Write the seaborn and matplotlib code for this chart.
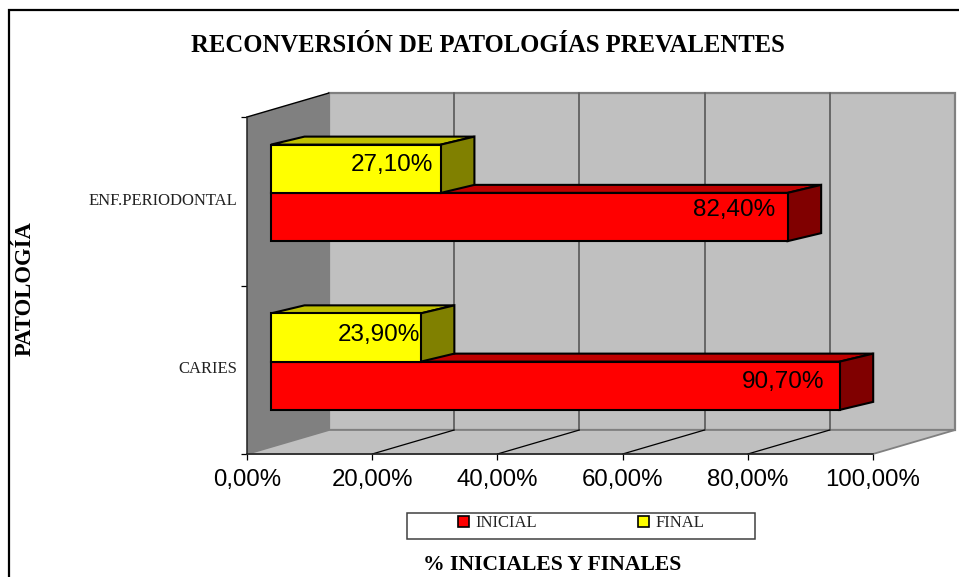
"""Reconversión de patologías prevalentes: barras horizontales con aspecto 3D."""

import matplotlib
matplotlib.use('Agg')
import matplotlib.pyplot as plt
from matplotlib.patches import Patch, Polygon, Rectangle
import pandas as pd
import seaborn as sns

# -- datos --
patologias = ['ENF.PERIODONTAL', 'CARIES']
inicial = [82.4, 90.7]
final = [27.1, 23.9]
ticks_x = [0, 20, 40, 60, 80, 100]

df = pd.DataFrame({
    'Patologia': patologias * 2,
    'Serie': ['INICIAL'] * 2 + ['FINAL'] * 2,
    'Valor': inicial + final,
})

# -- estilo --
sns.set_theme(style='white')
SERIF = 'Liberation Serif'
SANS = 'Liberation Sans'
W, H = 959, 577
DPI = 100

colores = {'INICIAL': '#FF0000', 'FINAL': '#FFFF00'}
techo = {'INICIAL': '#C00000', 'FINAL': '#C0C000'}
lateral = {'INICIAL': '#800000', 'FINAL': '#808000'}


def caja(izq, arriba, der, abajo):
    # pixeles de la imagen -> fraccion de figura
    return [izq / W, 1 - abajo / H, (der - izq) / W, (abajo - arriba) / H]


fig = plt.figure(figsize=(W / DPI, H / DPI), dpi=DPI, facecolor='white')

# marco del grafico, cortado por la derecha y por abajo
fig.add_artist(Rectangle((9 / W, -0.1), 1.1, 1.1 - 10 / H, transform=fig.transFigure,
                         fill=False, edgecolor='black', linewidth=1.6))

# -- fondo: paredes y suelo --
ax_bg = fig.add_axes(caja(247, 117, 873, 454))
ax_bg.set_xlim(0, 100)
ax_bg.set_ylim(0, 2)
ax_bg.patch.set_alpha(0)
fx = 82 / 6.26   # desplazamiento de la pared del fondo, en unidades de datos
fy = 24 / 168.5

ax_bg.add_patch(Polygon([(fx, fy), (100 + fx, fy), (100 + fx, 2 + fy), (fx, 2 + fy)],
                        closed=True, facecolor='#C0C0C0', edgecolor='#808080',
                        linewidth=1.6, clip_on=False, zorder=1))
ax_bg.add_patch(Polygon([(0, 0), (fx, fy), (fx, 2 + fy), (0, 2)],
                        closed=True, facecolor='#808080', edgecolor='none',
                        clip_on=False, zorder=1.1))
ax_bg.add_patch(Polygon([(0, 0), (100, 0), (100 + fx, fy), (fx, fy)],
                        closed=True, facecolor='#C0C0C0', edgecolor='#808080',
                        linewidth=1.3, clip_on=False, zorder=1.2))
ax_bg.plot([0, fx], [2, 2 + fy], color='black', lw=1, clip_on=False, zorder=1.3)
for t in ticks_x[1:-1]:
    ax_bg.plot([t + fx, t + fx], [fy, 2 + fy], color='#606060', lw=1.3, clip_on=False, zorder=1.3)
    ax_bg.plot([t, t + fx], [0, fy], color='black', lw=0.9, clip_on=False, zorder=1.3)

ax_bg.set_xticks(ticks_x)
ax_bg.set_xticklabels([f'{t:.2f}'.replace('.', ',') + '%' for t in ticks_x],
                      fontsize=17.3, family=SANS, color='black')
ax_bg.set_yticks([0, 1, 2])
ax_bg.set_yticklabels([])
ax_bg.set_yticks([0.515, 1.515], labels=patologias[::-1], minor=True,
                 fontsize=12, family=SERIF, color='#222222')
ax_bg.tick_params(axis='x', length=4.5, width=0.9, color='black', pad=6, bottom=True)
ax_bg.tick_params(axis='y', which='major', length=4.5, width=0.9, color='black', left=True)
ax_bg.tick_params(axis='y', which='minor', length=0, pad=7, left=False)
sns.despine(ax=ax_bg, top=True, right=True)
for lado in ('left', 'bottom'):
    ax_bg.spines[lado].set_color('#202020')
    ax_bg.spines[lado].set_linewidth(1.1)
    ax_bg.spines[lado].set_zorder(1.4)

# -- barras --
ax = fig.add_axes(caja(271, 108.5, 898, 446), zorder=2)
sns.barplot(data=df, y='Patologia', x='Valor', hue='Serie', order=patologias,
            hue_order=['FINAL', 'INICIAL'], palette=colores, saturation=1,
            width=0.572, gap=0, edgecolor='black', linewidth=1.5,
            legend=False, ax=ax)
ax.set_xlim(0, 100)
ax.set_ylim(1.5, -0.5)
ax.axis('off')

# profundidad de las barras, en unidades de datos
px = 33.5 / 6.27
py = 8 / 168.75

# desplazamiento de cada etiqueta respecto al extremo de su barra, en pixeles
margen_x = {'FINAL': [8, 1], 'INICIAL': [12, 15]}
margen_y = {'FINAL': [4, 2], 'INICIAL': [7, 4]}

for contenedor, serie, z in zip(ax.containers, ['FINAL', 'INICIAL'], [4, 3]):
    for i, barra in enumerate(contenedor):
        x1 = barra.get_width()
        y0, y1 = barra.get_y(), barra.get_y() + barra.get_height()
        ax.add_patch(Polygon([(0, y0), (px, y0 - py), (x1 + px, y0 - py), (x1, y0)],
                             closed=True, facecolor=techo[serie], edgecolor='black',
                             linewidth=1.5, clip_on=False, zorder=z))
        ax.add_patch(Polygon([(x1, y0), (x1 + px, y0 - py), (x1 + px, y1 - py), (x1, y1)],
                             closed=True, facecolor=lateral[serie], edgecolor='black',
                             linewidth=1.5, clip_on=False, zorder=z))
        barra.set_zorder(z + 0.1)
        barra.set_clip_on(False)
        ax.annotate(f'{x1:.2f}'.replace('.', ',') + '%', xy=(x1, (y0 + y1) / 2),
                    xytext=(-margen_x[serie][i], margen_y[serie][i]), textcoords='offset pixels',
                    ha='right', va='center', fontsize=17.5, family=SANS,
                    color='black', zorder=6, annotation_clip=False)

# -- textos --
fig.text(488 / W, 1 - 45.5 / H, 'RECONVERSIÓN DE PATOLOGÍAS PREVALENTES', ha='center', va='center',
         fontsize=17.7, fontweight='bold', family=SERIF, color='black')
fig.text(25 / W, 1 - 289 / H, 'PATOLOGÍA', rotation=90, ha='center', va='center',
         fontsize=16.3, fontweight='bold', family=SERIF, color='black')
fig.text(552.5 / W, 1 - 565 / H, '% INICIALES Y FINALES', ha='center', va='center',
         fontsize=15.6, fontweight='bold', family=SERIF, color='black')

# -- leyenda --
fig.add_artist(Rectangle((407 / W, 1 - 539 / H), 348 / W, 26 / H, transform=fig.transFigure,
                         facecolor='white', edgecolor='#404040', linewidth=1.1))
marcas = [Patch(facecolor=colores[s], edgecolor='black', linewidth=1.2, label=s)
          for s in ['INICIAL', 'FINAL']]
fig.legend(handles=marcas, loc='center left', bbox_to_anchor=(451 / W, 1 - 523 / H),
           ncol=2, frameon=False,
           prop={'family': SERIF, 'size': 12}, labelcolor='#222222',
           handlelength=0.65, handleheight=0.65, handletextpad=0.4, columnspacing=6.1,
           borderpad=0.4, borderaxespad=0)

fig.savefig('out.png', dpi=DPI, facecolor='white')
plt.close(fig)
